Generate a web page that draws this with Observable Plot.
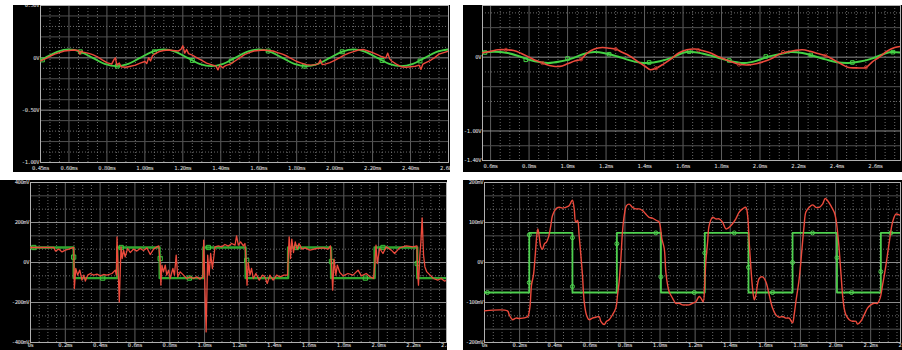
<!DOCTYPE html>
<html>
<head>
<meta charset="utf-8">
<script src="https://cdn.jsdelivr.net/npm/d3@7"></script>
<script src="https://cdn.jsdelivr.net/npm/@observablehq/plot@0.6"></script>
<style>
  html, body { margin: 0; padding: 0; background: #fff; }
  #wrap { position: relative; width: 902px; height: 350px; overflow: hidden; background: #fff; }
  .panel { position: absolute; background: #000; }
  .panel svg { display: block; color: #e0e0e0; }
  .panel svg text { letter-spacing: -0.45px; }
</style>
</head>
<body>
<div id="wrap">
  <div class="panel" id="p1" style="left:13px;top:5px;width:437px;height:167px"></div>
  <div class="panel" id="p2" style="left:463px;top:5px;width:439px;height:167px"></div>
  <div class="panel" id="p3" style="left:0px;top:180px;width:447px;height:170px"></div>
  <div class="panel" id="p4" style="left:463px;top:180px;width:439px;height:170px"></div>
</div>
<script>
// ---------------- Panel 1 (top-left), volts vs ms ----------------
const p1GreenT = [0.45,0.475,0.5375,0.6,0.6625,0.725,0.7875,0.85,0.9125,0.975,1.0375,1.1,1.1625,1.225,1.2875,1.35,1.4125,1.475,1.5375,1.6,1.6625,1.725,1.7875,1.85,1.9125,1.975,2.0375,2.1,2.1625,2.225,2.2875,2.35,2.4125,2.475,2.5375,2.6];
const p1GreenV = [-0.025,0,0.057,0.08,0.057,0,-0.057,-0.08,-0.057,0,0.057,0.08,0.057,0,-0.057,-0.08,-0.057,0,0.057,0.08,0.057,0,-0.057,-0.08,-0.057,0,0.057,0.08,0.057,0,-0.057,-0.08,-0.057,0,0.057,0.08];
const p1MarkT = [0.46,0.66,0.855,1.05,1.25,1.455,1.65,1.84,2.04,2.25,2.45];
const p1MarkV = [-0.02,0.058,-0.078,0.058,-0.025,-0.03,0.065,-0.079,0.058,-0.025,-0.03];
const p1RedT = [0.45,0.475,0.5,0.525,0.55,0.575,0.6,0.625,0.65,0.658,0.665,0.675,0.7,0.725,0.75,0.775,0.8,0.825,0.838,0.845,0.852,0.865,0.875,0.9,0.925,0.95,0.975,1.0,1.01,1.02,1.03,1.04,1.05,1.075,1.1,1.125,1.15,1.175,1.19,1.2,1.21,1.22,1.23,1.25,1.275,1.3,1.325,1.35,1.375,1.385,1.395,1.41,1.425,1.45,1.475,1.5,1.525,1.55,1.575,1.6,1.625,1.65,1.675,1.7,1.725,1.75,1.775,1.8,1.825,1.85,1.875,1.9,1.915,1.925,1.935,1.95,1.975,2.0,2.025,2.05,2.075,2.1,2.125,2.15,2.175,2.2,2.225,2.25,2.27,2.28,2.29,2.3,2.325,2.35,2.375,2.4,2.425,2.445,2.455,2.465,2.475,2.5,2.525,2.55,2.575,2.6];
const p1RedV = [-0.03,-0.01,0.015,0.035,0.05,0.065,0.07,0.075,0.07,0.035,0.065,0.055,0.045,0.03,0.01,-0.02,-0.045,-0.06,-0.015,0.0,-0.07,-0.05,-0.085,-0.09,-0.08,-0.07,-0.05,-0.035,-0.055,0.0,-0.03,0.02,0.035,0.06,0.07,0.075,0.07,0.065,0.08,0.115,0.045,0.08,0.04,0.025,0.0,-0.025,-0.05,-0.065,-0.08,-0.115,-0.07,-0.095,-0.075,-0.06,-0.03,0.0,0.03,0.05,0.065,0.07,0.075,0.07,0.065,0.05,0.035,0.015,-0.01,-0.035,-0.05,-0.065,-0.07,-0.065,-0.055,-0.02,-0.065,-0.06,-0.045,-0.025,0.0,0.025,0.045,0.06,0.075,0.08,0.065,0.05,0.03,0.01,0.0,0.045,-0.01,-0.03,-0.06,-0.085,-0.09,-0.085,-0.08,-0.07,-0.11,-0.06,-0.05,-0.03,0.0,0.035,0.05,0.065];
const p1XTicks = [0.45,0.6,0.8,1.0,1.2,1.4,1.6,1.8,2.0,2.2,2.4,2.6];
const p1YTicks = [0.5,0,-0.5,-1.0];
const p1YLabels = ["0.50V","0V","-0.50V","-1.00V"];

// ---------------- Panel 2 (top-right) ----------------
const p2GreenT = [0.558,0.62,0.68,0.74,0.80,0.86,0.90,0.96,1.02,1.08,1.14,1.20,1.26,1.32,1.38,1.42,1.48,1.54,1.60,1.64,1.70,1.76,1.82,1.88,1.92,1.98,2.04,2.10,2.16,2.22,2.28,2.34,2.40,2.46,2.52,2.58,2.64,2.68,2.73];
const p2GreenV = [0.063,0.072,0.06,0.02,-0.035,-0.07,-0.08,-0.06,-0.02,0.04,0.07,0.05,0.01,-0.04,-0.075,-0.08,-0.055,-0.01,0.06,0.075,0.05,0.01,-0.035,-0.07,-0.08,-0.05,0.005,0.04,0.07,0.055,0.015,-0.03,-0.07,-0.08,-0.06,-0.02,0.04,0.07,0.063];
const p2MarkT = [0.571,0.783,1.0,1.216,1.424,1.632,1.84,2.03,2.264,2.48,2.69];
const p2MarkV = [0.063,-0.036,-0.018,0.04,-0.072,0.075,-0.045,0.009,0.03,-0.072,0.068];
const p2RedT = [0.558,0.60,0.64,0.68,0.72,0.76,0.80,0.84,0.88,0.92,0.96,1.00,1.04,1.07,1.10,1.14,1.18,1.22,1.25,1.28,1.32,1.36,1.40,1.43,1.46,1.50,1.54,1.58,1.62,1.66,1.70,1.74,1.78,1.82,1.86,1.90,1.94,1.98,2.02,2.06,2.10,2.14,2.18,2.22,2.26,2.30,2.34,2.38,2.42,2.46,2.50,2.55,2.585,2.62,2.66,2.70,2.73];
const p2RedV = [0.06,0.08,0.10,0.10,0.09,0.05,0.0,-0.05,-0.09,-0.12,-0.125,-0.09,-0.05,-0.03,0.05,0.11,0.13,0.12,0.11,0.07,0.02,-0.05,-0.12,-0.17,-0.15,-0.09,-0.02,0.06,0.10,0.11,0.09,0.06,0.01,-0.03,-0.07,-0.10,-0.105,-0.09,-0.06,-0.02,0.04,0.07,0.09,0.10,0.08,0.05,0.02,-0.03,-0.09,-0.14,-0.145,-0.14,-0.06,0.0,0.08,0.13,0.145];
const p2RedMarkT = [0.68,0.87,1.07,1.25,1.46,1.68,1.89,2.12,2.34,2.55];
const p2RedMarkV = [0.10,-0.08,-0.03,0.11,-0.15,0.095,-0.10,0.07,0.02,-0.14];
const p2XTicks = [0.6,0.8,1.0,1.2,1.4,1.6,1.8,2.0,2.2,2.4,2.6];
const p2YTicks = [0,-1.0,-1.4];
const p2YLabels = ["0V","-1.00V","-1.40V"];

// ---------------- Panel 3 (bottom-left), mV vs ms ----------------
const p3EdgesT = [0.248,0.498,0.742,0.993,1.236,1.48,1.727,1.977,2.222];
const p3High = 75, p3Low = -78;
const p3MarkT = [0.019,0.248,0.415,0.521,0.745,0.913,1.022,1.242,1.528,1.729,1.924,2.025,2.222];
const p3MarkV = [75,27,-78,75,20,-78,75,10,75,5,-78,75,-5];
const p3RedT = [0.0,0.134,0.143,0.162,0.181,0.2,0.22,0.239,0.248,0.252,0.26,0.271,0.283,0.296,0.306,0.315,0.329,0.344,0.363,0.382,0.401,0.42,0.439,0.468,0.487,0.493,0.497,0.51,0.52,0.527,0.535,0.544,0.558,0.573,0.592,0.611,0.63,0.649,0.669,0.688,0.707,0.726,0.737,0.745,0.749,0.755,0.764,0.774,0.783,0.793,0.802,0.818,0.827,0.837,0.846,0.86,0.879,0.898,0.917,0.936,0.955,0.974,0.99,0.995,1.009,1.018,1.026,1.035,1.045,1.06,1.079,1.098,1.117,1.137,1.156,1.175,1.184,1.194,1.207,1.223,1.232,1.238,1.244,1.251,1.261,1.27,1.28,1.295,1.314,1.333,1.347,1.36,1.375,1.394,1.414,1.433,1.456,1.477,1.482,1.486,1.494,1.501,1.511,1.521,1.532,1.543,1.559,1.578,1.605,1.643,1.681,1.71,1.723,1.731,1.736,1.744,1.754,1.763,1.777,1.796,1.824,1.853,1.882,1.901,1.929,1.952,1.971,1.979,1.985,1.992,2.006,2.025,2.044,2.073,2.092,2.12,2.159,2.197,2.22,2.225,2.229,2.237,2.243,2.25,2.258,2.266,2.277,2.296,2.315,2.34,2.359,2.378,2.397];
const p3RedV = [75,75,57,67,53,62,67,73,75,-130,-30,-63,-38,-88,-63,-93,-63,-55,-63,-58,-67,-60,-63,-55,-38,-63,128,-197,78,20,62,28,70,50,67,57,70,60,73,40,67,78,83,3,-113,-13,-47,-13,-63,-38,-80,-30,-63,37,-72,-47,-63,-80,-72,-80,-72,-83,-72,112,-347,37,-63,45,-30,78,83,78,90,82,95,87,133,87,103,83,95,20,-113,0,-63,-30,-80,-55,-88,-63,-72,-105,-63,-88,-63,-72,-63,-63,53,128,20,117,50,103,67,95,67,73,62,70,73,67,83,-30,-138,17,-63,-13,-50,-67,-55,-63,-38,-67,-55,-72,-80,3,87,-5,70,45,78,62,45,73,83,78,83,-63,-113,37,103,223,37,-22,-47,-63,-80,-88,-80,-93,-88];
const p3XTicks = [0,0.2,0.4,0.6,0.8,1.0,1.2,1.4,1.6,1.8,2.0,2.2,2.4];
const p3YTicks = [400,200,0,-200,-400];
const p3YLabels = ["400mV","200mV","0V","-200mV","-400mV"];

// ---------------- Panel 4 (bottom-right) ----------------
const p4EdgesT = [0.255,0.501,0.754,1.005,1.255,1.504,1.755,2.008,2.258];
const p4High = 74, p4Low = -75;
const p4MarkT = [0.017,0.255,0.255,0.501,0.501,0.754,0.976,1.005,1.195,1.255,1.423,1.504,1.641,1.755,1.869,2.008,2.091,2.258,2.315];
const p4MarkV = [-75,69,-50,62,-60,47,74,-36,-75,24,74,-12,-75,0,74,12,-75,-23,74];
const p4RedT = [0.0,0.131,0.141,0.16,0.179,0.198,0.217,0.236,0.247,0.258,0.268,0.279,0.289,0.298,0.304,0.311,0.321,0.33,0.342,0.353,0.365,0.378,0.387,0.406,0.425,0.444,0.463,0.482,0.492,0.501,0.511,0.52,0.53,0.539,0.549,0.558,0.568,0.581,0.596,0.615,0.634,0.653,0.663,0.682,0.695,0.71,0.729,0.748,0.758,0.767,0.777,0.786,0.796,0.809,0.824,0.843,0.862,0.881,0.9,0.919,0.938,0.957,0.98,0.995,1.01,1.024,1.033,1.043,1.052,1.071,1.09,1.109,1.128,1.147,1.166,1.185,1.204,1.223,1.233,1.246,1.254,1.261,1.271,1.28,1.299,1.318,1.337,1.356,1.375,1.394,1.413,1.432,1.451,1.47,1.489,1.499,1.508,1.518,1.527,1.537,1.546,1.565,1.584,1.603,1.622,1.641,1.66,1.679,1.698,1.717,1.736,1.755,1.764,1.774,1.793,1.812,1.821,1.831,1.85,1.869,1.888,1.907,1.926,1.941,1.954,1.973,1.992,2.002,2.017,2.03,2.04,2.049,2.059,2.078,2.097,2.116,2.125,2.144,2.163,2.182,2.201,2.22,2.239,2.254,2.268,2.287,2.306,2.325,2.344,2.363,2.372];
const p4RedV = [-121,-121,-131,-143,-139,-140,-139,-137,-135,-114,-56,-31,18,68,84,68,39,33,47,51,64,93,117,134,138,136,138,142,150,156,134,101,105,68,18,-31,-98,-131,-143,-139,-137,-135,-147,-155,-147,-143,-131,-114,-81,-48,10,76,117,142,146,138,134,134,130,121,113,111,105,101,60,35,-23,-56,-73,-89,-102,-102,-106,-106,-106,-102,-98,-85,-89,-98,-56,2,51,93,113,109,109,101,84,88,97,109,126,134,138,117,51,-15,-64,-93,-81,-40,-36,-48,-81,-114,-131,-137,-135,-139,-139,-151,-131,-98,-40,51,93,126,138,144,138,138,146,160,155,142,126,109,51,-23,-81,-114,-131,-143,-147,-147,-154,-147,-131,-114,-106,-102,-102,-89,-56,-7,51,101,121,119,117];
const p4XTicks = [0,0.2,0.4,0.6,0.8,1.0,1.2,1.4,1.6,1.8,2.0,2.2,2.4];
const p4YTicks = [200,100,0,-100,-200];
const p4YLabels = ["200mV","100mV","0V","-100mV","-200mV"];

// ---------------- helpers ----------------
const MONO = "DejaVu Sans Mono, monospace";
const RED = "#ec4a3c";
const GREEN = "#45d145";
const TXT = "#e2e2e2";
const rows = (T, V) => T.map((t, i) => ({t, v: V[i]}));
function stepRows(edges, startHigh, hi, lo, t0, t1) {
  let cur = startHigh ? hi : lo;
  const out = [{t: t0, v: cur}];
  for (const e of edges) {
    out.push({t: e, v: cur});
    cur = cur === hi ? lo : hi;
    out.push({t: e, v: cur});
  }
  out.push({t: t1, v: cur});
  return out;
}
function lattice(lo, hi, step) {
  const n = Math.round((hi - lo) / step);
  return d3.range(n + 1).map(i => +(lo + i * step).toFixed(6));
}
const isMult = (x, m) => Math.abs(x / m - Math.round(x / m)) < 1e-6;

function panel(el, cfg) {
  const xs = lattice(cfg.xGrid[0], cfg.xGrid[1], cfg.xGrid[2]).filter(x => x > cfg.xDomain[0] + 1e-6 && x < cfg.xDomain[1] - 1e-6);
  const xSolid = xs.filter(x => isMult(x, 0.2));
  const xDot = xs.filter(x => !isMult(x, 0.2));
  const ys = lattice(cfg.yGrid[0], cfg.yGrid[1], cfg.yGrid[2]).filter(y => y > cfg.yDomain[0] + 1e-6 && y < cfg.yDomain[1] - 1e-6);
  const yMajor = ys.filter(y => cfg.yTicks.some(t => Math.abs(t - y) < 1e-6));
  const ySolid = ys.filter(y => !yMajor.includes(y) && cfg.ySolidTest(y));
  const yDot = ys.filter(y => !yMajor.includes(y) && !cfg.ySolidTest(y));
  const labelMap = new Map(cfg.yTicks.map((t, i) => [t, cfg.yLabels[i]]));
  const marks = [
    Plot.ruleX(xDot, {stroke: "#858585", strokeDasharray: "1,2", strokeWidth: 0.8}),
    Plot.ruleY(yDot, {stroke: "#858585", strokeDasharray: "1,2", strokeWidth: 0.8}),
    Plot.ruleX(xSolid, {stroke: "#5e5e5e", strokeWidth: 1}),
    Plot.ruleY(ySolid, {stroke: "#505050", strokeWidth: 1}),
    Plot.ruleY(yMajor, {stroke: "#8c8c8c", strokeWidth: 1}),
    Plot.frame({stroke: "#b0b0b0", strokeWidth: 1}),
    Plot.axisX(cfg.xTicks, {anchor: "bottom", tickSize: 0, tickPadding: cfg.xPad, tickFormat: cfg.xFormat,
      fill: TXT, fontSize: 5.5, fontFamily: MONO, label: null}),
    Plot.axisY(cfg.yTicks, {anchor: "left", tickSize: 0, tickPadding: 1.5, tickFormat: d => labelMap.get(d),
      fill: TXT, fontSize: 5.5, fontFamily: MONO, label: null}),
    ...cfg.series
  ];
  const chart = Plot.plot({
    width: cfg.width, height: cfg.height,
    marginLeft: cfg.m[0], marginRight: cfg.m[1], marginTop: cfg.m[2], marginBottom: cfg.m[3],
    x: {domain: cfg.xDomain},
    y: {domain: cfg.yDomain},
    style: {background: "#000", color: TXT, overflow: "hidden", fontFamily: MONO},
    marks
  });
  document.getElementById(el).appendChild(chart);
}

// Panel 1
panel("p1", {
  width: 437, height: 167, m: [27, 2, 0, 10],
  xDomain: [0.45, 2.6], yDomain: [-1.0, 0.5],
  xGrid: [0.45, 2.6, 0.05], yGrid: [-1.0, 0.5, 0.1],
  ySolidTest: y => isMult(y, 0.2),
  xTicks: p1XTicks, xFormat: d => d.toFixed(2) + "ms", xPad: 4,
  yTicks: p1YTicks, yLabels: p1YLabels,
  series: [
    Plot.line(rows(p1GreenT, p1GreenV), {x: "t", y: "v", stroke: GREEN, strokeWidth: 1.8, curve: "catmull-rom", clip: true}),
    Plot.dot(rows(p1MarkT, p1MarkV), {x: "t", y: "v", symbol: "square", r: 2.2, stroke: GREEN, fill: "none", strokeWidth: 1}),
    Plot.line(rows(p1RedT, p1RedV), {x: "t", y: "v", stroke: RED, strokeWidth: 1.4, clip: true})
  ]
});

// Panel 2
panel("p2", {
  width: 439, height: 167, m: [19, 2, 0, 12],
  xDomain: [0.558, 2.73], yDomain: [-1.4, 0.7],
  xGrid: [0.55, 2.75, 0.05], yGrid: [-1.4, 0.6, 0.2],
  ySolidTest: y => isMult(y, 0.4),
  xTicks: p2XTicks, xFormat: d => d.toFixed(1) + "ms", xPad: 4,
  yTicks: p2YTicks, yLabels: p2YLabels,
  series: [
    Plot.line(rows(p2GreenT, p2GreenV), {x: "t", y: "v", stroke: GREEN, strokeWidth: 2, curve: "catmull-rom", clip: true}),
    Plot.dot(rows(p2MarkT, p2MarkV), {x: "t", y: "v", symbol: "square", r: 2, stroke: GREEN, fill: "none", strokeWidth: 1}),
    Plot.line(rows(p2RedT, p2RedV), {x: "t", y: "v", stroke: RED, strokeWidth: 1.6, curve: "catmull-rom", clip: true}),
    Plot.dot(rows(p2RedMarkT, p2RedMarkV), {x: "t", y: "v", r: 1.6, stroke: "#c43a30", fill: "none", strokeWidth: 0.9})
  ]
});

// Panel 3
panel("p3", {
  width: 447, height: 170, m: [30, 1, 2, 8],
  xDomain: [0, 2.39], yDomain: [-400, 400],
  xGrid: [0, 2.4, 0.05], yGrid: [-400, 400, 200 / 3],
  ySolidTest: y => Math.abs(Math.round(y / (200 / 3))) % 3 === 2,
  xTicks: p3XTicks, xFormat: d => d === 0 ? "0s" : d.toFixed(1) + "ms", xPad: 1,
  yTicks: p3YTicks, yLabels: p3YLabels,
  series: [
    Plot.line(stepRows(p3EdgesT, true, p3High, p3Low, 0, 2.39), {x: "t", y: "v", stroke: "#2fa62f", strokeWidth: 2.4, clip: true}),
    Plot.dot(rows(p3MarkT, p3MarkV), {x: "t", y: "v", symbol: "square", r: 2.4, stroke: "#3cc83c", fill: "none", strokeWidth: 1}),
    Plot.line(rows(p3RedT, p3RedV), {x: "t", y: "v", stroke: RED, strokeWidth: 1.3, clip: true})
  ]
});

// Panel 4
panel("p4", {
  width: 439, height: 170, m: [21, 2, 2, 8],
  xDomain: [0, 2.37], yDomain: [-200, 200],
  xGrid: [0, 2.4, 0.05], yGrid: [-200, 200, 100 / 3],
  ySolidTest: y => Math.abs(Math.round(y / (100 / 3))) % 3 === 2,
  xTicks: p4XTicks, xFormat: d => d === 0 ? "0s" : d.toFixed(1) + "ms", xPad: 1,
  yTicks: p4YTicks, yLabels: p4YLabels,
  series: [
    Plot.line(stepRows(p4EdgesT, false, p4High, p4Low, 0, 2.37), {x: "t", y: "v", stroke: "#4fd04f", strokeWidth: 1.8, clip: true}),
    Plot.dot(rows(p4MarkT, p4MarkV), {x: "t", y: "v", r: 2, stroke: "#4fd04f", fill: "none", strokeWidth: 1}),
    Plot.line(rows(p4RedT, p4RedV), {x: "t", y: "v", stroke: RED, strokeWidth: 1.4, curve: "catmull-rom", clip: true})
  ]
});
</script>
</body>
</html>
